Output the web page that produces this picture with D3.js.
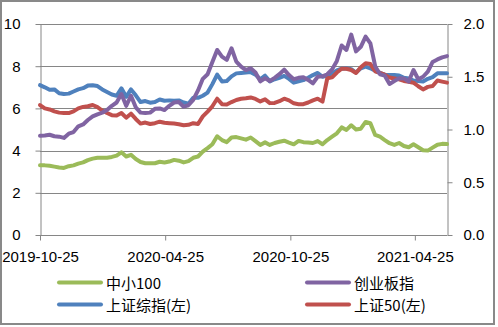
<!DOCTYPE html>
<html>
<head>
<meta charset="utf-8">
<script src="https://cdn.jsdelivr.net/npm/d3@7/dist/d3.min.js"></script>
<style>
  html, body { margin: 0; padding: 0; background: #fff; }
  svg { display: block; }
  .tick text { font-family: "Liberation Sans", Arial, sans-serif; font-size: 15px; fill: #000; }
  .legend text { font-family: "Noto Sans CJK SC", sans-serif; font-size: 15px; fill: #000; }
</style>
</head>
<body>
<svg id="chart" width="498" height="327"></svg>
<script>
// Weekly observations starting 2019-10-25
const startDate = "2019-10-25";
const endDate = "2021-06-11";
const xTickLabels = ["2019-10-25", "2020-04-25", "2020-10-25", "2021-04-25"];
const leftTicks = [0, 2, 4, 6, 8, 10];
const rightTicks = [0, 0.5, 1.0, 1.5, 2.0];

// 上证综指 (left axis)
const szzz = [7.1, 7.0, 6.88, 6.9, 6.72, 6.68, 6.7, 6.8, 6.9, 6.96,
  7.08, 7.1, 7.06, 6.9, 6.78, 6.66, 6.6, 6.95, 6.55, 6.9,
  6.62, 6.3, 6.35, 6.27, 6.3, 6.42, 6.36, 6.38, 6.36, 6.38,
  6.28, 6.22, 6.5, 6.5, 6.6, 6.75, 7.15, 7.6, 7.28, 7.3,
  7.52, 7.66, 7.68, 7.7, 7.72, 7.6, 7.38, 7.55, 7.28, 7.38,
  7.45, 7.54, 7.4, 7.22, 7.28, 7.34, 7.45, 7.58, 7.68, 7.5,
  7.56, 7.66, 7.8, 7.88, 7.9, 7.86, 7.7, 7.9, 7.98, 7.9,
  7.78, 7.68, 7.6, 7.58, 7.58, 7.56, 7.45, 7.42, 7.32, 7.3,
  7.27, 7.4, 7.48, 7.66, 7.66, 7.66];

// 上证50 (left axis)
const sz50 = [6.16, 6.0, 5.95, 5.86, 5.8, 5.78, 5.78, 5.86, 6.0, 6.07,
  6.1, 6.16, 6.06, 5.9, 5.78, 5.68, 5.66, 5.78, 5.56, 5.75,
  5.5, 5.28, 5.33, 5.26, 5.3, 5.37, 5.32, 5.3, 5.28, 5.25,
  5.2, 5.22, 5.3, 5.26, 5.62, 5.85, 6.1, 6.46, 6.2, 6.18,
  6.3, 6.4, 6.46, 6.48, 6.52, 6.45, 6.33, 6.43, 6.25, 6.26,
  6.34, 6.46, 6.38, 6.24, 6.2, 6.2, 6.28, 6.38, 6.46, 6.32,
  7.43, 7.47, 7.7, 7.88, 7.88, 7.82, 7.68, 7.95, 8.14, 8.1,
  7.76, 7.68, 7.6, 7.46, 7.42, 7.38, 7.3, 7.26, 7.22, 7.05,
  6.9, 7.02, 7.06, 7.32, 7.27, 7.22];

// 中小100 (right axis)
const zx100 = [0.66, 0.66, 0.656, 0.648, 0.64, 0.636, 0.652, 0.66, 0.676, 0.688,
  0.71, 0.724, 0.732, 0.732, 0.732, 0.74, 0.752, 0.784, 0.744, 0.76,
  0.72, 0.692, 0.68, 0.68, 0.68, 0.694, 0.688, 0.696, 0.712, 0.704,
  0.688, 0.70, 0.732, 0.744, 0.79, 0.824, 0.86, 0.936, 0.90, 0.88,
  0.924, 0.928, 0.916, 0.904, 0.924, 0.89, 0.854, 0.878, 0.854, 0.872,
  0.884, 0.894, 0.876, 0.86, 0.892, 0.88, 0.876, 0.872, 0.89, 0.86,
  0.90, 0.932, 0.964, 1.02, 0.996, 1.04, 1.0, 1.008, 1.072, 1.06,
  0.948, 0.932, 0.90, 0.87, 0.854, 0.872, 0.844, 0.832, 0.86, 0.832,
  0.804, 0.80, 0.828, 0.856, 0.864, 0.862];

// 创业板指 (right axis)
const cybz = [0.94, 0.944, 0.95, 0.936, 0.932, 0.92, 0.96, 0.976, 1.03, 1.048,
  1.09, 1.124, 1.144, 1.16, 1.184, 1.224, 1.256, 1.336, 1.224, 1.32,
  1.21, 1.16, 1.156, 1.16, 1.196, 1.2, 1.184, 1.224, 1.256, 1.26,
  1.216, 1.23, 1.28, 1.37, 1.48, 1.524, 1.64, 1.754, 1.69, 1.66,
  1.77, 1.644, 1.596, 1.564, 1.58, 1.54, 1.456, 1.486, 1.46, 1.49,
  1.524, 1.568, 1.516, 1.476, 1.49, 1.496, 1.47, 1.438, 1.50, 1.504,
  1.524, 1.57, 1.65, 1.796, 1.754, 1.90, 1.74, 1.784, 1.88, 1.816,
  1.60, 1.524, 1.51, 1.432, 1.46, 1.486, 1.484, 1.454, 1.564, 1.476,
  1.50, 1.548, 1.64, 1.664, 1.684, 1.696];

const colors = { zx100: "#9BBB59", cybz: "#8064A2", szzz: "#4F81BD", sz50: "#C0504D" };
const axisColor = "#868686";

const parse = d3.utcParse("%Y-%m-%d");
const t0 = parse(startDate);
const dates = d3.range(szzz.length).map(i => d3.utcDay.offset(t0, 7 * i));

const svg = d3.select("#chart");

// chart frame
svg.append("rect")
  .attr("x", 1).attr("y", 1).attr("width", 493).attr("height", 323)
  .attr("fill", "#fff").attr("stroke", "#898989").attr("stroke-width", 2);

const plot = { left: 40, right: 447, top: 24, bottom: 235 };

const x = d3.scaleUtc().domain([t0, parse(endDate)]).range([plot.left, plot.right]);
const yL = d3.scaleLinear().domain([0, 10]).range([plot.bottom, plot.top]);
const yR = d3.scaleLinear().domain([0, 2]).range([plot.bottom, plot.top]);

// horizontal gridlines
svg.append("g").selectAll("line").data(leftTicks).join("line")
  .attr("x1", plot.left).attr("x2", plot.right)
  .attr("y1", d => Math.round(yL(d)) + 0.5).attr("y2", d => Math.round(yL(d)) + 0.5)
  .attr("stroke", axisColor).attr("stroke-width", 1);

function styleAxis(g) {
  g.select(".domain").attr("stroke", axisColor);
  g.selectAll(".tick line").attr("stroke", axisColor);
}

// left axis
svg.append("g")
  .attr("transform", `translate(${plot.left + 0.5},0)`)
  .call(d3.axisLeft(yL).tickValues(leftTicks).tickSize(5).tickSizeOuter(0).tickPadding(15).tickFormat(d3.format("d")))
  .call(styleAxis);

// right axis
svg.append("g")
  .attr("transform", `translate(${plot.right + 0.5},0)`)
  .call(d3.axisRight(yR).tickValues(rightTicks).tickSize(5).tickSizeOuter(0).tickPadding(11).tickFormat(d3.format(".1f")))
  .call(styleAxis);

// bottom axis
svg.append("g")
  .attr("transform", `translate(0,${plot.bottom + 0.5})`)
  .call(d3.axisBottom(x).tickValues(xTickLabels.map(parse)).tickSize(5).tickSizeOuter(0).tickPadding(11)
    .tickFormat(d3.utcFormat("%Y-%m-%d")))
  .call(styleAxis)
  .call(g => g.select(".domain").attr("d", `M${plot.left},0H${plot.right}`));

// series lines: primary axis first, secondary on top
const series = [
  { key: "szzz", values: szzz, y: yL },
  { key: "sz50", values: sz50, y: yL },
  { key: "zx100", values: zx100, y: yR },
  { key: "cybz", values: cybz, y: yR }
];

series.forEach(s => {
  const line = d3.line()
    .x((d, i) => x(dates[i]))
    .y(d => s.y(d));
  svg.append("path")
    .datum(s.values)
    .attr("d", line)
    .attr("fill", "none")
    .attr("stroke", colors[s.key])
    .attr("stroke-width", 4)
    .attr("stroke-linejoin", "round")
    .attr("stroke-linecap", "round");
});

// legend
const legendItems = [
  { label: "中小100", key: "zx100", x: 59, y: 282.5 },
  { label: "创业板指", key: "cybz", x: 307, y: 282.5 },
  { label: "上证综指(左)", key: "szzz", x: 59, y: 304.5 },
  { label: "上证50(左)", key: "sz50", x: 307, y: 304.5 }
];
const lg = svg.append("g").attr("class", "legend");
legendItems.forEach(d => {
  lg.append("line")
    .attr("x1", d.x).attr("x2", d.x + 42)
    .attr("y1", d.y).attr("y2", d.y)
    .attr("stroke", colors[d.key]).attr("stroke-width", 4).attr("stroke-linecap", "round");
  lg.append("text")
    .attr("x", d.x + 47).attr("y", d.y)
    .attr("dominant-baseline", "central")
    .text(d.label);
});
</script>
</body>
</html>
